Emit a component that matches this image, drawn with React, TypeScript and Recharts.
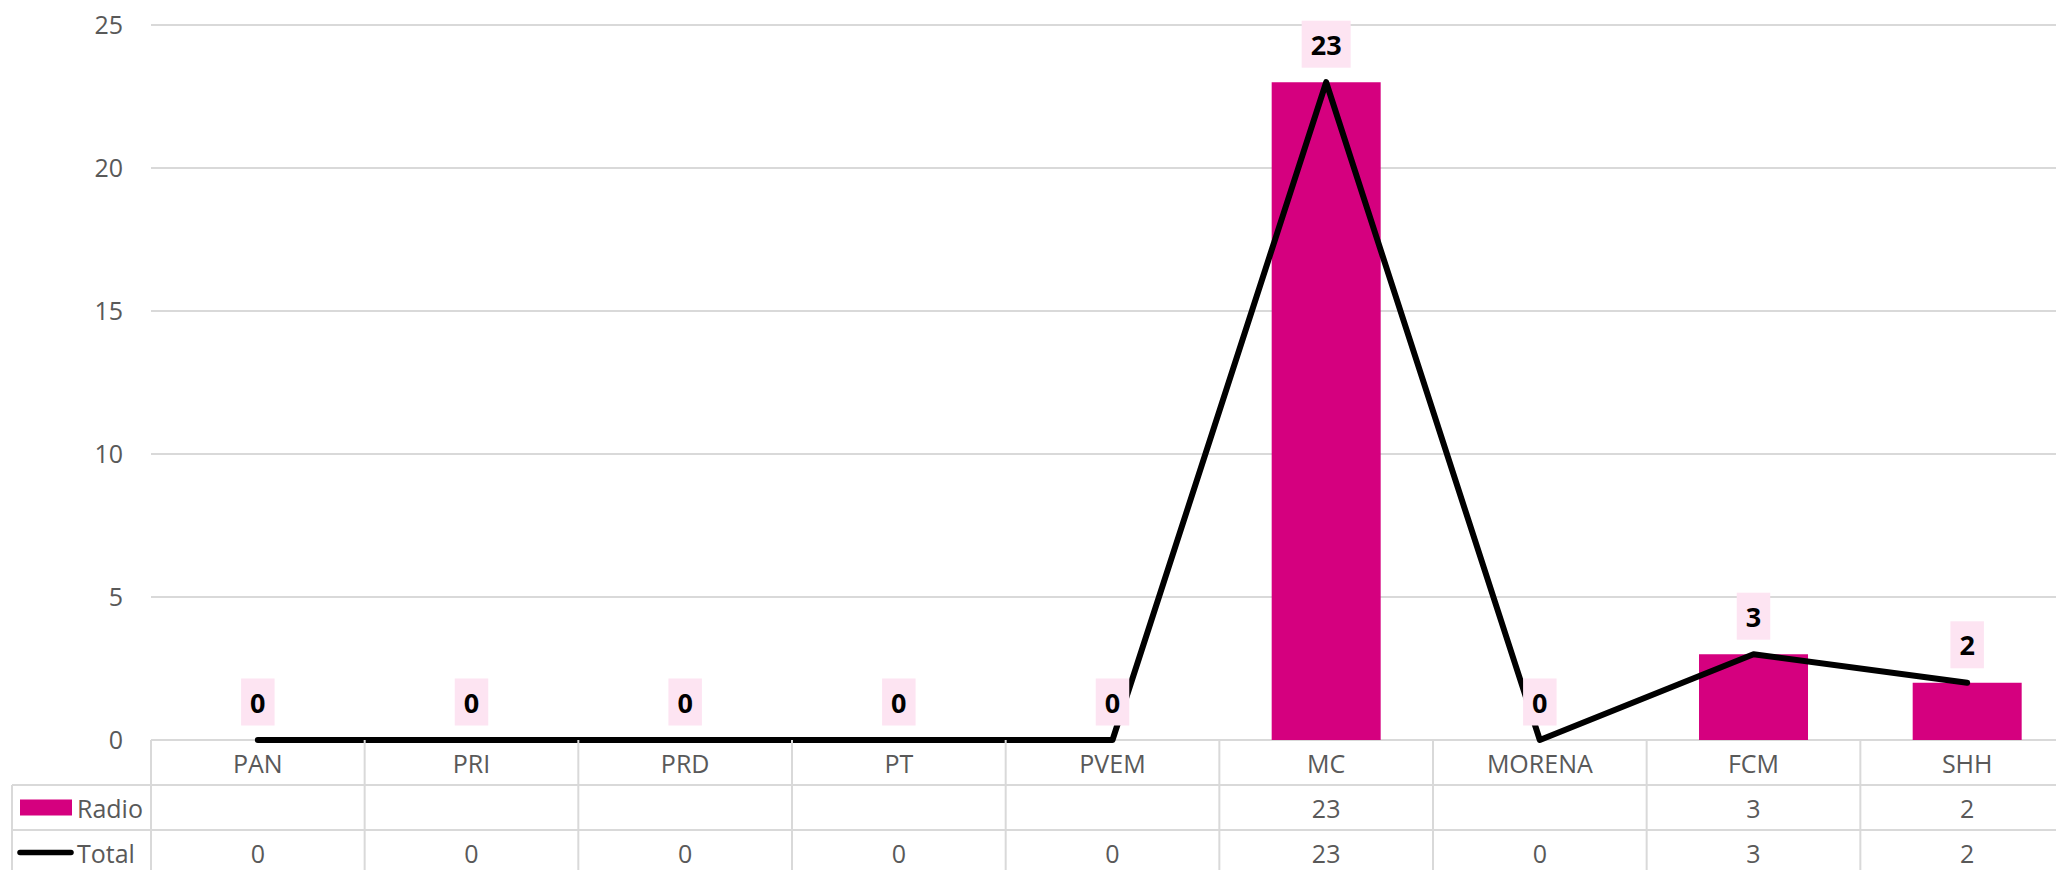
import React from 'react';
import { ComposedChart, Bar, Line, XAxis, YAxis, CartesianGrid, LabelList } from 'recharts';

const categories = ['PAN', 'PRI', 'PRD', 'PT', 'PVEM', 'MC', 'MORENA', 'FCM', 'SHH'];
const radioValues: (number | null)[] = [null, null, null, null, null, 23, null, 3, 2];
const totalValues: number[] = [0, 0, 0, 0, 0, 23, 0, 3, 2];
const yTicks = [0, 5, 10, 15, 20, 25];
const seriesNames = { radio: 'Radio', total: 'Total' };

const data = categories.map((name, i) => ({ name, radio: radioValues[i], total: totalValues[i] }));

const FONT = '"Open Sans", "Liberation Sans", sans-serif';
const PINK = '#d5007f';
const LABEL_BG = '#fde4f2';
const GRID = '#d9d9d9';
const TEXT = '#595959';

const CHART_W = 2074;
const CHART_H = 900;
const LEFT = 151;
const TOP = 25;
const PLOT_H = 715;
const AXIS_Y = TOP + PLOT_H;
const XAXIS_H = CHART_H - AXIS_Y;
const BAND = (CHART_W - LEFT) / categories.length;
const ROW = 45;
const TABLE_LEFT = 12;

const TableTick = (props: any) => {
  const { x, payload, index } = props;
  const left = x - BAND / 2;
  const right = x + BAND / 2;
  const r = radioValues[index];
  const t = totalValues[index];
  const textProps = { fontFamily: FONT, fontSize: 25, fill: TEXT, textAnchor: 'middle' as const, dominantBaseline: 'central' as const };
  return (
    <g>
      {index === 0 && (
        <g>
          <line x1={left} y1={AXIS_Y} x2={left} y2={AXIS_Y + ROW * 3} stroke={GRID} strokeWidth={2} />
          <line x1={TABLE_LEFT} y1={AXIS_Y + ROW} x2={TABLE_LEFT} y2={AXIS_Y + ROW * 3} stroke={GRID} strokeWidth={2} />
          {[1, 2, 3].map((k) => (
            <line key={k} x1={TABLE_LEFT} y1={AXIS_Y + ROW * k} x2={left} y2={AXIS_Y + ROW * k} stroke={GRID} strokeWidth={2} />
          ))}
          <rect x={20} y={AXIS_Y + ROW * 1.5 - 8} width={52} height={16} fill={PINK} />
          <text x={77} y={AXIS_Y + ROW * 1.5} fontFamily={FONT} fontSize={25} fill={TEXT} dominantBaseline="central">
            {seriesNames.radio}
          </text>
          <line x1={20} y1={AXIS_Y + ROW * 2.5} x2={71} y2={AXIS_Y + ROW * 2.5} stroke="#000" strokeWidth={5.5} strokeLinecap="round" />
          <text x={77} y={AXIS_Y + ROW * 2.5} fontFamily={FONT} fontSize={25} fill={TEXT} dominantBaseline="central">
            {seriesNames.total}
          </text>
        </g>
      )}
      <line x1={right} y1={AXIS_Y} x2={right} y2={AXIS_Y + ROW * 3} stroke={GRID} strokeWidth={2} />
      {[1, 2, 3].map((k) => (
        <line key={k} x1={left} y1={AXIS_Y + ROW * k} x2={right} y2={AXIS_Y + ROW * k} stroke={GRID} strokeWidth={2} />
      ))}
      <text x={x} y={AXIS_Y + ROW * 0.5} {...textProps}>{payload.value}</text>
      <text x={x} y={AXIS_Y + ROW * 1.5} {...textProps}>{r == null ? '' : r}</text>
      <text x={x} y={AXIS_Y + ROW * 2.5} {...textProps}>{t}</text>
    </g>
  );
};

const DataLabel = (props: any) => {
  const { x, y, value } = props;
  const s = String(value);
  const w = s.length * 15.5 + 18;
  const h = 47;
  const cy = y - 38;
  return (
    <g>
      <rect x={x - w / 2} y={cy - h / 2} width={w} height={h} fill={LABEL_BG} />
      <text x={x} y={cy} textAnchor="middle" dominantBaseline="central" fontFamily={FONT} fontSize={27} fontWeight="bold" fill="#000">
        {s}
      </text>
    </g>
  );
};

export default function App() {
  return (
    <div style={{ position: 'absolute', left: 0, top: 0, width: 2056, height: 870, overflow: 'hidden', background: '#fff' }}>
      <ComposedChart
        width={CHART_W}
        height={CHART_H}
        data={data}
        margin={{ top: TOP, right: 0, bottom: 0, left: 0 }}
        barCategoryGap="24.5%"
      >
        <CartesianGrid horizontal vertical={false} stroke={GRID} strokeWidth={2} />
        <XAxis
          dataKey="name"
          height={XAXIS_H}
          axisLine={false}
          tickLine={false}
          interval={0}
          tick={<TableTick />}
        />
        <YAxis
          width={LEFT}
          domain={[0, 25]}
          ticks={yTicks}
          axisLine={false}
          tickLine={false}
          tickMargin={22}
          tick={{ fontSize: 25, fill: TEXT, fontFamily: FONT }}
        />
        <Bar dataKey="radio" fill={PINK} isAnimationActive={false} />
        <Line
          dataKey="total"
          type="linear"
          stroke="#000"
          strokeWidth={6}
          strokeLinecap="round"
          strokeLinejoin="round"
          dot={false}
          activeDot={false}
          isAnimationActive={false}
        >
          <LabelList dataKey="total" content={<DataLabel />} />
        </Line>
      </ComposedChart>
    </div>
  );
}
